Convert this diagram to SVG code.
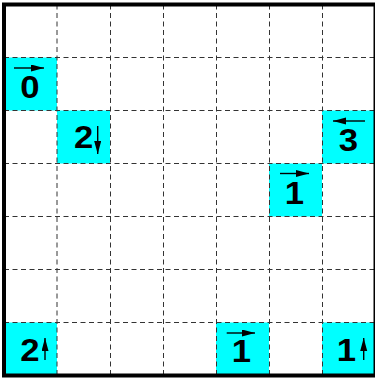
<svg xmlns="http://www.w3.org/2000/svg" width="375" height="381" viewBox="0 0 375 381">
<style>
.grid{stroke:#333;stroke-width:1;stroke-dasharray:5,3.5;fill:none}
.frame{stroke:#000;stroke-width:4;fill:none}
.cell{fill:#00ffff}
.num{font-family:"Liberation Sans",Arial,sans-serif;font-weight:bold;font-size:31px;fill:#000;text-anchor:middle}
.arr{stroke:#000;stroke-width:1.4;fill:none;marker-end:url(#ah)}
</style>
<defs>
<marker id="ah" markerUnits="userSpaceOnUse" markerWidth="14" markerHeight="8" refX="13" refY="3.5" orient="auto"><path d="M0,0L13,3.5L0,7z" fill="#000"/></marker>
</defs>
<rect x="0" y="0" width="375" height="381" fill="#fff"/>
<g id="cell-0-1">
<rect class="cell" x="4" y="57.5" width="53" height="53"/>
<text class="num" transform="translate(29.8,98) scale(1.12,1)">0</text>
<line class="arr" x1="14" y1="68" x2="44" y2="68"/>
</g>
<g id="cell-1-2">
<rect class="cell" x="57" y="110.5" width="53" height="53"/>
<text class="num" transform="translate(83.7,148) scale(1.12,1)">2</text>
<line class="arr" x1="97.7" y1="126" x2="97.7" y2="154"/>
</g>
<g id="cell-6-2">
<rect class="cell" x="322" y="110.5" width="53.5" height="53"/>
<text class="num" transform="translate(348.5,151) scale(1.12,1)">3</text>
<line class="arr" x1="365" y1="121" x2="333" y2="121"/>
</g>
<g id="cell-5-3">
<rect class="cell" x="269" y="163.5" width="53" height="53"/>
<text class="num" transform="translate(294.5,203.5) scale(1.12,1)">1</text>
<line class="arr" x1="280" y1="173.5" x2="309" y2="173.5"/>
</g>
<g id="cell-0-6">
<rect class="cell" x="4" y="322.5" width="53" height="53"/>
<text class="num" transform="translate(29.8,361) scale(1.12,1)">2</text>
<line class="arr" x1="45" y1="360" x2="45" y2="338"/>
</g>
<g id="cell-4-6">
<rect class="cell" x="216" y="322.5" width="53" height="53"/>
<text class="num" transform="translate(241.5,362) scale(1.12,1)">1</text>
<line class="arr" x1="226.7" y1="333" x2="255" y2="333"/>
</g>
<g id="cell-6-6">
<rect class="cell" x="322" y="322.5" width="53.5" height="53"/>
<text class="num" transform="translate(346.5,361) scale(1.12,1)">1</text>
<line class="arr" x1="363.7" y1="360" x2="363.7" y2="338"/>
</g>
<g id="connectors"></g>
<g id="grid" class="grid">
<line x1="57" y1="4.5" x2="57" y2="375.5"/>
<line x1="110.5" y1="4.5" x2="110.5" y2="375.5"/>
<line x1="163.5" y1="4.5" x2="163.5" y2="375.5"/>
<line x1="216.5" y1="4.5" x2="216.5" y2="375.5"/>
<line x1="269.5" y1="4.5" x2="269.5" y2="375.5"/>
<line x1="322.5" y1="4.5" x2="322.5" y2="375.5"/>
<line x1="4" y1="57.5" x2="375.5" y2="57.5"/>
<line x1="4" y1="110.5" x2="375.5" y2="110.5"/>
<line x1="4" y1="163.5" x2="375.5" y2="163.5"/>
<line x1="4" y1="216.5" x2="375.5" y2="216.5"/>
<line x1="4" y1="269.5" x2="375.5" y2="269.5"/>
<line x1="4" y1="322.5" x2="375.5" y2="322.5"/>
</g>
<rect class="frame" x="4" y="4.5" width="371.5" height="371"/>
</svg>
